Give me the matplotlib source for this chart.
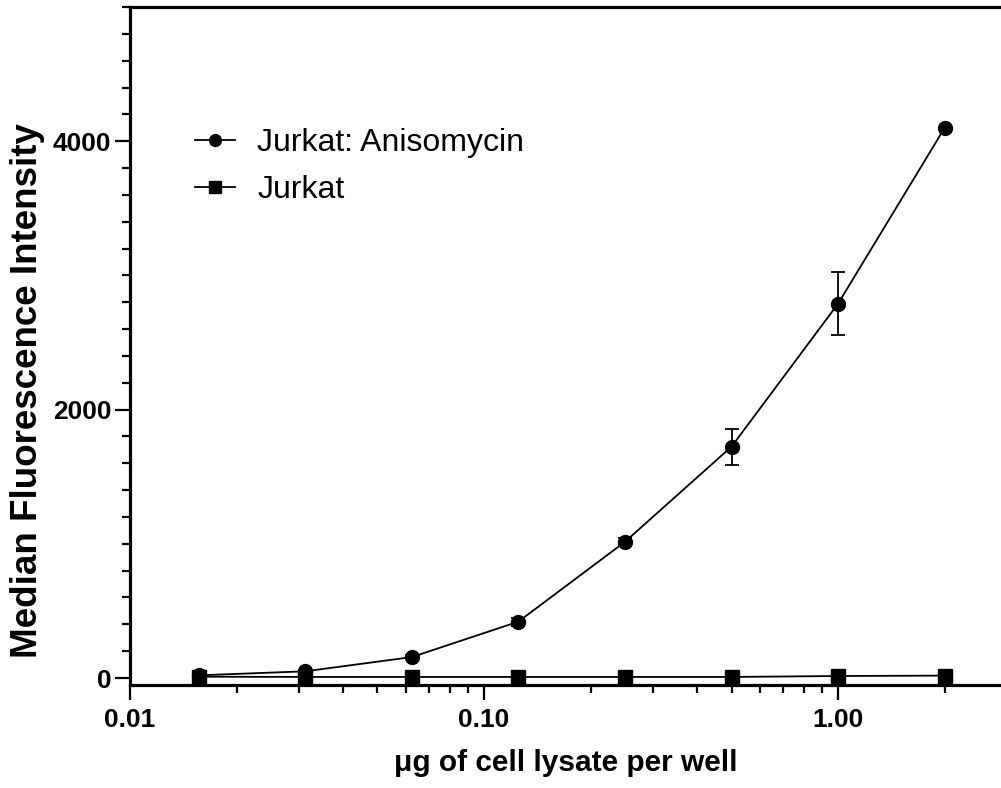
import numpy as np
import matplotlib
matplotlib.use("Agg")
import matplotlib.pyplot as plt
from matplotlib.lines import Line2D
from matplotlib.ticker import FixedLocator, FuncFormatter, LogLocator, NullFormatter

# datos
dosis = [0.015625, 0.03125, 0.0625, 0.125, 0.25, 0.5, 1.0, 2.0]
aniso = [20, 50, 156, 420, 1015, 1724, 2790, 4100]
aniso_err = [10, 10, 15, 30, 25, 135, 235, 0]
jurkat = [10, 8, 8, 8, 8, 8, 15, 18]
nombres = ['Jurkat: Anisomycin', 'Jurkat']

plt.rcParams['font.family'] = ['Liberation Sans', 'DejaVu Sans']

fig = plt.figure(figsize=(10.01, 7.88), dpi=100)
ax = fig.add_axes([130/1001, 103/788, 1 - 130/1001, (685 - 7)/788])

ax.errorbar(dosis, aniso, yerr=aniso_err, color='black', marker='o', markersize=10,
            linewidth=1.3, elinewidth=1.3, capsize=5, capthick=1.3, zorder=3)
ax.plot(dosis, jurkat, color='black', marker='s', markersize=9.5, linewidth=1.3, zorder=3)

ax.set_xscale('log')
ax.set_xlim(0.01, 10 ** 0.46)
ax.set_ylim(-52, 5000)

ax.xaxis.set_major_locator(FixedLocator([0.01, 0.1, 1.0]))
ax.xaxis.set_major_formatter(FuncFormatter(lambda v, p: f"{v:.2f}"))
ax.xaxis.set_minor_locator(LogLocator(base=10, subs=np.arange(2, 10)))
ax.xaxis.set_minor_formatter(NullFormatter())

ax.yaxis.set_major_locator(FixedLocator([0, 2000, 4000]))
ax.yaxis.set_minor_locator(FixedLocator(np.arange(0, 5001, 200)))

for s in ['left', 'bottom', 'top']:
    ax.spines[s].set_linewidth(2.3)
ax.spines['right'].set_visible(False)

ax.tick_params(axis='both', which='major', length=10.5, width=1.6, labelsize=19, pad=6)
ax.tick_params(axis='both', which='minor', length=6, width=1.6)
ax.tick_params(axis='y', which='major', pad=3)
for lab in ax.get_xticklabels() + ax.get_yticklabels():
    lab.set_fontweight('bold')

ax.set_xlabel('μg of cell lysate per well', fontsize=21.5, fontweight='bold', labelpad=12)
ax.set_ylabel('Median Fluorescence Intensity', fontsize=26.5, fontweight='bold')
ax.yaxis.set_label_coords(-0.098, 0.435)

# leyenda con el orden del original y sin barras de error
manijas = [Line2D([], [], color='black', marker='o', markersize=8.5, linewidth=1.3),
           Line2D([], [], color='black', marker='s', markersize=8, linewidth=1.3)]
ax.legend(manijas, nombres, loc='upper left', bbox_to_anchor=(195/1001, 1 - 128/788),
          bbox_transform=fig.transFigure, frameon=False, fontsize=23, handlelength=1.25,
          handletextpad=0.7, labelspacing=0.53, borderpad=0, borderaxespad=0)

plt.savefig('out.png', dpi=100)
